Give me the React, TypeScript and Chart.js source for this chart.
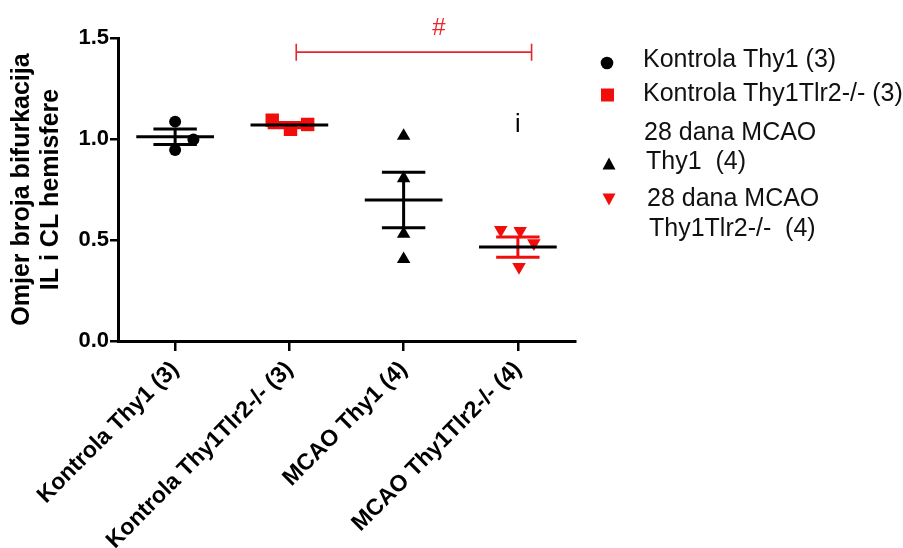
import React, { useEffect, useRef } from 'react';
import { Chart, registerables } from 'chart.js';

Chart.register(...registerables);

// ---------- data ----------
const categories = ['Kontrola Thy1 (3)', 'Kontrola Thy1Tlr2-/- (3)', 'MCAO Thy1 (4)', 'MCAO Thy1Tlr2-/- (4)'];
const yTicks = [0, 0.5, 1.0, 1.5];

const kontrolaThy1 = [1.086, 0.998, 0.946];
const kontrolaThy1Jitter = [0, 0.16, 0];
const kontrolaTlr2 = [1.093, 1.048, 1.072];
const kontrolaTlr2Jitter = [-0.15, 0.01, 0.16];
const mcaoThy1 = [1.015, 0.805, 0.53, 0.405];
const mcaoThy1Jitter = [0, 0, 0, 0];
const mcaoTlr2 = [0.55, 0.545, 0.484, 0.367];
const mcaoTlr2Jitter = [-0.15, 0.02, 0.14, 0.01];

const groupMeans = [1.011, 1.069, 0.698, 0.465];
const groupSems = [0.038, 0.013, 0.137, 0.05];

const legendLabels = [
  ['Kontrola Thy1 (3)'],
  ['Kontrola Thy1Tlr2-/- (3)'],
  ['28 dana MCAO', 'Thy1  (4)'],
  ['28 dana MCAO', 'Thy1Tlr2-/-  (4)'],
];
const yTitle = ['Omjer broja bifurkacija', 'IL i CL hemisfere'];
const sigLabel = '#';
const sigFrom = 1.06;
const sigTo = 3.12;
const sigLevel = 1.43;
const sigLabelAt = 2.31;
const noteLabel = 'i';
const noteAt = 1.07;

// ---------- styles ----------
const FONT = '"Liberation Sans", Arial, Helvetica, sans-serif';
const RED = '#f20d0d';
const BLACK = '#000000';
const seriesColors = [BLACK, RED, BLACK, RED];
const semColors = [BLACK, RED, BLACK, RED];

const toPoints = (vals: number[], jit: number[], idx: number) =>
  vals.map((v, k) => ({ x: idx + jit[k], y: v }));

const overlayPlugin = {
  id: 'overlay',
  afterDatasetsDraw(chart: any) {
    const { ctx, scales } = chart;
    const x = scales.x;
    const y = scales.y;
    ctx.save();
    ctx.lineCap = 'butt';
    groupMeans.forEach((m: number, i: number) => {
      const s = groupSems[i];
      const cx = x.getPixelForValue(i);
      const yHi = y.getPixelForValue(m + s);
      const yLo = y.getPixelForValue(m - s);
      const yM = y.getPixelForValue(m);
      const capL = x.getPixelForValue(i - 0.19);
      const capR = x.getPixelForValue(i + 0.19);
      ctx.strokeStyle = semColors[i];
      ctx.lineWidth = 3;
      ctx.beginPath();
      ctx.moveTo(cx, yHi);
      ctx.lineTo(cx, yLo);
      ctx.moveTo(capL, yHi);
      ctx.lineTo(capR, yHi);
      ctx.moveTo(capL, yLo);
      ctx.lineTo(capR, yLo);
      ctx.stroke();
      ctx.strokeStyle = BLACK;
      ctx.beginPath();
      ctx.moveTo(x.getPixelForValue(i - 0.34), yM);
      ctx.lineTo(x.getPixelForValue(i + 0.34), yM);
      ctx.stroke();
    });

    // significance bracket
    const bx1 = x.getPixelForValue(sigFrom);
    const bx2 = x.getPixelForValue(sigTo);
    const by = y.getPixelForValue(sigLevel);
    ctx.strokeStyle = '#e8262a';
    ctx.lineWidth = 1.6;
    ctx.beginPath();
    ctx.moveTo(bx1, by);
    ctx.lineTo(bx2, by);
    ctx.moveTo(bx1, by - 8.5);
    ctx.lineTo(bx1, by + 8.5);
    ctx.moveTo(bx2, by - 8.5);
    ctx.lineTo(bx2, by + 8.5);
    ctx.stroke();
    ctx.fillStyle = '#e8262a';
    ctx.font = `24px ${FONT}`;
    ctx.textAlign = 'center';
    ctx.textBaseline = 'middle';
    ctx.fillText(sigLabel, x.getPixelForValue(sigLabelAt), by - 24);

    // note
    ctx.fillStyle = BLACK;
    ctx.font = `25px ${FONT}`;
    ctx.fillText(noteLabel, x.getPixelForValue(3), y.getPixelForValue(noteAt));
    ctx.restore();
  },
  afterDraw(chart: any) {
    const { ctx } = chart;
    ctx.save();
    // legend
    const mx = 609;
    const items = [
      { marker: 'circle', my: 63, lines: [{ x: 643, y: 67 }] },
      { marker: 'rect', my: 95, lines: [{ x: 643, y: 101 }] },
      { marker: 'triUp', my: 164, lines: [{ x: 644, y: 140 }, { x: 646, y: 169 }] },
      { marker: 'triDown', my: 199, lines: [{ x: 647, y: 206 }, { x: 649, y: 236 }] },
    ];
    ctx.font = `25px ${FONT}`;
    ctx.textAlign = 'left';
    ctx.textBaseline = 'alphabetic';
    items.forEach((it, i) => {
      ctx.fillStyle = seriesColors[i];
      ctx.beginPath();
      if (it.marker === 'circle') {
        ctx.arc(mx - 2, it.my, 6.3, 0, Math.PI * 2);
      } else if (it.marker === 'rect') {
        ctx.rect(mx - 8, it.my - 6.5, 13, 13);
      } else if (it.marker === 'triUp') {
        ctx.moveTo(mx, it.my - 6.5);
        ctx.lineTo(mx + 6.5, it.my + 5.5);
        ctx.lineTo(mx - 6.5, it.my + 5.5);
        ctx.closePath();
      } else {
        ctx.moveTo(mx, it.my + 6.5);
        ctx.lineTo(mx + 6.5, it.my - 5.5);
        ctx.lineTo(mx - 6.5, it.my - 5.5);
        ctx.closePath();
      }
      ctx.fill();
      ctx.fillStyle = '#111111';
      legendLabels[i].forEach((txt, j) => {
        ctx.fillText(txt, it.lines[j].x, it.lines[j].y);
      });
    });
    ctx.restore();
  },
};

export default function App() {
  const canvasRef = useRef<HTMLCanvasElement | null>(null);

  useEffect(() => {
    document.body.style.margin = '0';
    const canvas = canvasRef.current;
    if (!canvas) return;
    const chart = new Chart(canvas, {
      type: 'scatter',
      data: {
        datasets: [
          {
            label: categories[0],
            data: toPoints(kontrolaThy1, kontrolaThy1Jitter, 0),
            pointStyle: 'circle',
            pointRadius: 6,
            backgroundColor: BLACK,
            borderColor: BLACK,
            borderWidth: 0,
          },
          {
            label: categories[1],
            data: toPoints(kontrolaTlr2, kontrolaTlr2Jitter, 1),
            pointStyle: 'rect',
            pointRadius: 9.5,
            backgroundColor: RED,
            borderColor: RED,
            borderWidth: 0,
          },
          {
            label: categories[2],
            data: toPoints(mcaoThy1, mcaoThy1Jitter, 2),
            pointStyle: 'triangle',
            pointRadius: 7.8,
            backgroundColor: BLACK,
            borderColor: BLACK,
            borderWidth: 0,
          },
          {
            label: categories[3],
            data: toPoints(mcaoTlr2, mcaoTlr2Jitter, 3),
            pointStyle: 'triangle',
            pointRotation: 180,
            pointRadius: 7.8,
            backgroundColor: RED,
            borderColor: RED,
            borderWidth: 0,
          },
        ],
      },
      options: {
        animation: false,
        responsive: false,
        maintainAspectRatio: false,
        clip: false as any,
        layout: { padding: { top: 38, right: 328, left: 0, bottom: 0 } },
        plugins: {
          legend: { display: false },
          tooltip: { enabled: false },
        },
        scales: {
          x: {
            type: 'linear',
            min: -0.5,
            max: 3.5,
            afterBuildTicks: (scale: any) => {
              scale.ticks = categories.map((_, i) => ({ value: i }));
            },
            afterFit: (scale: any) => {
              scale.height = 207;
            },
            ticks: {
              autoSkip: false,
              maxRotation: 45,
              minRotation: 45,
              padding: 5,
              color: BLACK,
              font: { family: FONT, size: 23, weight: 'bold' },
              callback: (v: any) => categories[Math.round(Number(v))] ?? '',
            },
            grid: {
              drawOnChartArea: false,
              drawTicks: true,
              tickLength: 10,
              color: BLACK,
              lineWidth: 2.5,
            },
            border: { display: true, color: BLACK, width: 3 },
          },
          y: {
            type: 'linear',
            min: 0,
            max: 1.5,
            afterBuildTicks: (scale: any) => {
              scale.ticks = yTicks.map((v) => ({ value: v }));
            },
            afterFit: (scale: any) => {
              scale.width = 118;
            },
            ticks: {
              padding: 1,
              color: BLACK,
              font: { family: FONT, size: 22, weight: 'bold' },
              callback: (v: any) => Number(v).toFixed(1),
            },
            grid: {
              drawOnChartArea: false,
              drawTicks: true,
              tickLength: 8,
              color: BLACK,
              lineWidth: 2.5,
            },
            border: { display: true, color: BLACK, width: 3 },
            title: {
              display: true,
              text: yTitle,
              color: BLACK,
              font: { family: FONT, size: 25, weight: 'bold', lineHeight: 1.15 },
              padding: { top: 8, bottom: 0 },
            },
          },
        },
      },
      plugins: [overlayPlugin],
    });
    return () => chart.destroy();
  }, []);

  return (
    <div style={{ position: 'absolute', left: 0, top: 0, width: 903, height: 548, background: '#fff' }}>
      <canvas ref={canvasRef} width={903} height={548} style={{ display: 'block' }} />
    </div>
  );
}
